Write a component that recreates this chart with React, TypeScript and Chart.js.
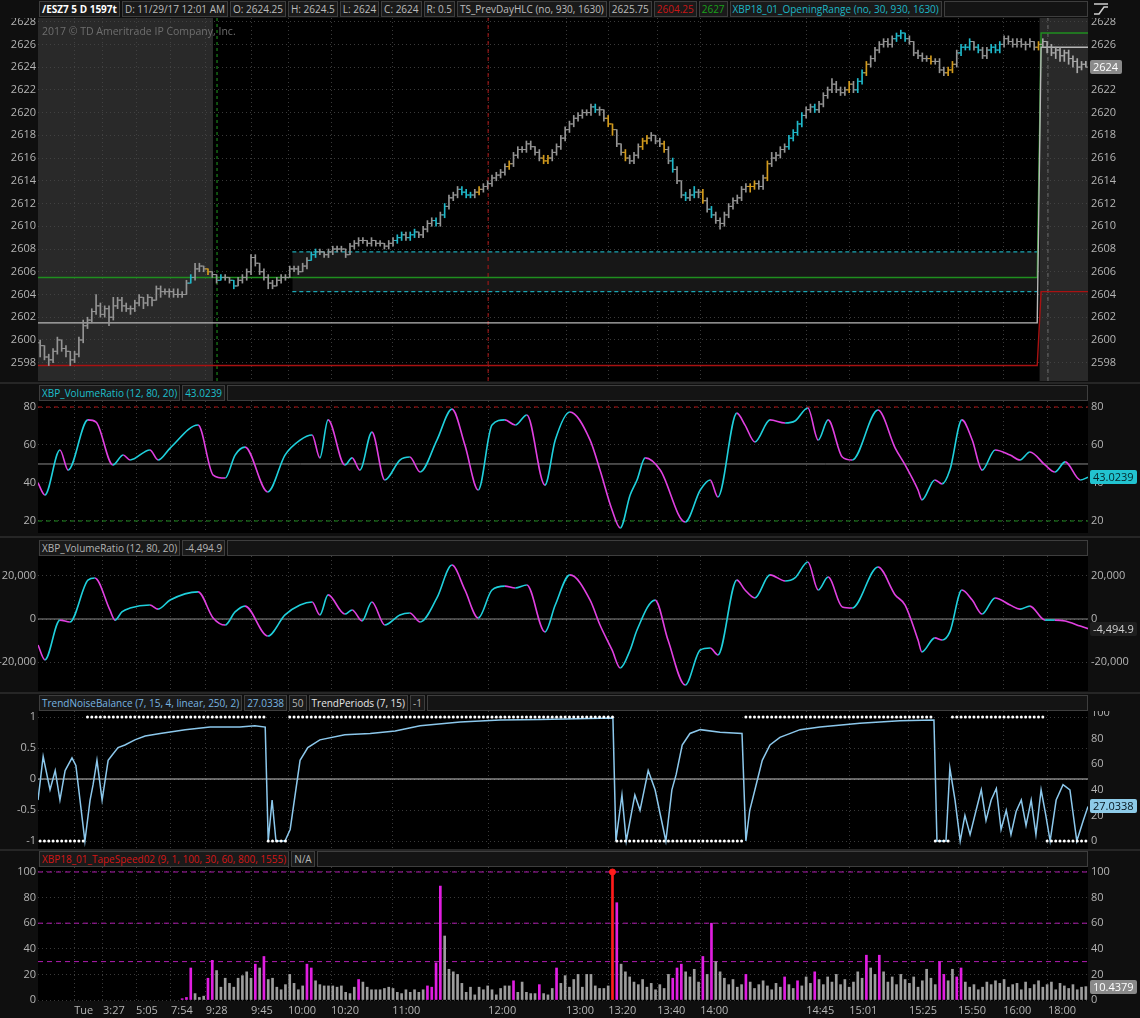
import React, { useEffect, useRef } from 'react';
import { Chart, registerables } from 'chart.js';

Chart.register(...registerables);

const FONT_FAMILY = '"Open Sans", "DejaVu Sans", sans-serif';
const TICK_FONT = { family: FONT_FAMILY, size: 11 };
const TICK_COLOR = '#b4b4b4';
const GRID_COLOR = '#3a3a3a';
const W = 1140;
const LEFT_AXIS_W = 38;
const RIGHT_AXIS_W = 52;
const X_MIN = -0.5;
const X_MAX = 243.5;

// ---------------- time axis ----------------
const timeTickIdx = [7.9, 14.6, 22.3, 30.4, 38.5, 49.0, 57.6, 67.6, 81.8, 104.1, 122.2, 132.0, 143.4, 153.4, 178.0, 188.0, 201.9, 213.3, 223.8, 234.2];
const timeTickLabels = ['Tue', '3:27', '5:05', '7:54', '9:28', '9:45', '10:00', '10:20', '11:00', '12:00', '13:00', '13:20', '13:40', '14:00', '14:45', '15:01', '15:25', '15:50', '16:00', '18:00'];

// ---------------- price (OHLC, 1597 tick bars) ----------------
const firstOpen = 2599.75;
const priceClose = [
  2599.5, 2598.5, 2598.25, 2599, 2600, 2599.25, 2599, 2598.25, 2598.75, 2600,
  2601.25, 2601.75, 2602.5, 2603, 2602.25, 2602.75, 2602, 2603, 2603.5, 2603,
  2602.75, 2602.75, 2603.25, 2603.75, 2603.25, 2603.75, 2603.5, 2604.5, 2604.25, 2604.25,
  2604.25, 2604, 2604, 2604, 2605, 2605.5, 2606.25, 2606.5, 2606.25, 2606,
  2605.75, 2605.25, 2605.5, 2605.5, 2605.25, 2604.75, 2605.25, 2605.5, 2606, 2607.25,
  2606.75, 2606, 2605.5, 2605, 2604.75, 2605.25, 2605.5, 2605.5, 2606.25, 2606.25,
  2606, 2606.5, 2607, 2607.5, 2607.75, 2607.75, 2607.5, 2607.75, 2608, 2608,
  2608, 2607.5, 2608.25, 2608.5, 2608.75, 2608.75, 2608.5, 2608.75, 2608.5, 2608.5,
  2608.25, 2608.5, 2608.75, 2609, 2609.25, 2609, 2609.25, 2609.5, 2609.25, 2609.75,
  2610.25, 2610.5, 2610.25, 2611, 2611.75, 2612.5, 2612.75, 2613.25, 2613, 2612.75,
  2612.75, 2613, 2613.25, 2613.5, 2613.75, 2614.25, 2614.5, 2614.75, 2615.25, 2615.5,
  2616.25, 2616.75, 2616.75, 2617.25, 2617, 2616.5, 2616, 2615.75, 2616, 2616.5,
  2617, 2617.75, 2618.5, 2619, 2619.5, 2619.75, 2620, 2620, 2620.5, 2620.25,
  2620.25, 2619.5, 2619, 2618.5, 2617.25, 2616.5, 2616, 2615.75, 2616.25, 2617,
  2617.5, 2617.75, 2618, 2617.5, 2617.25, 2616.75, 2615.75, 2615, 2614, 2612.75,
  2612.5, 2612.75, 2613, 2613, 2612.25, 2611.5, 2611, 2610.5, 2610.25, 2611,
  2611.75, 2612.25, 2612.5, 2613.25, 2613.5, 2613.5, 2613.75, 2613.5, 2614.25, 2615.5,
  2616, 2616.25, 2616.75, 2617, 2617.75, 2618.25, 2619, 2619.75, 2620.25, 2620.5,
  2620.25, 2620.75, 2621.5, 2622, 2622.5, 2622, 2621.75, 2622, 2622.5, 2622,
  2622.75, 2623.5, 2624.25, 2624.75, 2625.5, 2626, 2626.25, 2626, 2626.5, 2626.75,
  2627, 2626.5, 2626.25, 2625.25, 2625, 2624.75, 2624.75, 2624.5, 2624.5, 2623.75,
  2623.5, 2623.75, 2624.25, 2625.25, 2625.75, 2625.75, 2626.25, 2625.75, 2625.5, 2625,
  2625.5, 2625.75, 2625.5, 2626, 2626.5, 2626.25, 2626, 2626.25, 2626, 2626,
  2626.25, 2625.75, 2626, 2626.25, 2625.75, 2625.25, 2625.5, 2625, 2625.25, 2624.75,
  2624.5, 2624, 2624.25, 2624,
];
const priceHigh = [
  2600, 2599.5, 2598.75, 2599.25, 2600.25, 2600, 2599.5, 2599, 2599, 2600.25,
  2601.75, 2602, 2602.75, 2604, 2603.25, 2603, 2603, 2603.75, 2603.75, 2603.75,
  2603.25, 2603, 2603.5, 2604, 2603.75, 2604, 2603.75, 2604.75, 2604.75, 2604.5,
  2604.5, 2604.5, 2604.5, 2604.25, 2605.25, 2605.75, 2606.75, 2606.75, 2606.5, 2606.25,
  2606, 2605.75, 2605.75, 2605.75, 2605.5, 2605.25, 2605.5, 2605.75, 2606.25, 2607.5,
  2607.5, 2606.75, 2606.25, 2605.75, 2605.25, 2605.5, 2605.75, 2605.75, 2606.5, 2606.5,
  2606.5, 2606.75, 2607.25, 2607.75, 2608, 2608, 2607.75, 2608, 2608.25, 2608.25,
  2608.25, 2608, 2608.5, 2608.75, 2609, 2609, 2608.75, 2609, 2608.75, 2608.75,
  2608.5, 2608.75, 2609, 2609.25, 2609.5, 2609.5, 2609.5, 2609.75, 2609.5, 2610,
  2610.5, 2610.75, 2610.75, 2611.25, 2612, 2612.75, 2613, 2613.5, 2613.5, 2613.25,
  2613, 2613.25, 2613.5, 2613.75, 2614, 2614.5, 2614.75, 2615, 2615.5, 2615.75,
  2616.5, 2617, 2617, 2617.5, 2617.5, 2617, 2616.75, 2616.25, 2616.25, 2616.75,
  2617.25, 2618, 2618.75, 2619.25, 2619.75, 2620, 2620.25, 2620.25, 2620.75, 2620.75,
  2620.5, 2620.25, 2619.75, 2619, 2618.5, 2617.25, 2616.75, 2616.25, 2616.5, 2617.25,
  2617.75, 2618, 2618.25, 2618, 2617.75, 2617.5, 2617, 2616, 2615.25, 2614,
  2613, 2613.25, 2613.5, 2613.25, 2613.25, 2612.5, 2611.75, 2611.25, 2610.75, 2611.25,
  2612, 2612.5, 2612.75, 2613.5, 2613.75, 2613.75, 2614, 2614, 2614.5, 2615.75,
  2616.5, 2616.5, 2617, 2617.25, 2618, 2618.5, 2619.25, 2620, 2620.5, 2620.75,
  2620.75, 2621, 2621.75, 2622.25, 2623, 2622.75, 2622.25, 2622.25, 2622.75, 2622.75,
  2623, 2623.75, 2624.5, 2625, 2625.75, 2626.25, 2626.5, 2626.5, 2626.75, 2627,
  2627.25, 2627, 2626.75, 2626.25, 2625.5, 2625.25, 2625, 2625, 2624.75, 2624.75,
  2624, 2624, 2624.5, 2625.5, 2626, 2626, 2626.5, 2626.25, 2626, 2625.75,
  2625.75, 2626, 2626, 2626.25, 2626.75, 2626.75, 2626.5, 2626.5, 2626.5, 2626.25,
  2626.5, 2626.25, 2626.25, 2626.5, 2626.25, 2626, 2625.75, 2625.75, 2625.5, 2625.5,
  2625, 2624.75, 2624.5, 2624.5,
];
const priceLow = [
  2598.5, 2598.25, 2597.75, 2598, 2598.75, 2599, 2598.5, 2597.75, 2598, 2598.5,
  2599.75, 2601, 2601.5, 2602.25, 2602, 2602, 2601.25, 2601.75, 2602.75, 2602.5,
  2602.5, 2602.25, 2602.5, 2603, 2602.75, 2603, 2603, 2603.5, 2603.75, 2604,
  2603.75, 2603.75, 2603.75, 2603.75, 2604, 2605, 2605.25, 2606, 2606, 2605.75,
  2605.5, 2605, 2605.25, 2605.25, 2605, 2604.5, 2604.75, 2605, 2605.25, 2605.75,
  2606.5, 2605.75, 2605.25, 2604.5, 2604.5, 2604.75, 2605, 2605.25, 2605.5, 2606,
  2605.75, 2606, 2606.25, 2607, 2607.25, 2607.5, 2607.25, 2607.25, 2607.5, 2607.75,
  2607.75, 2607.25, 2607.5, 2608, 2608.25, 2608.5, 2608.25, 2608.25, 2608.25, 2608.25,
  2608, 2608, 2608.25, 2608.5, 2608.75, 2608.75, 2608.75, 2609, 2609, 2609,
  2609.5, 2610, 2610, 2610, 2610.75, 2611.5, 2612.25, 2612.5, 2612.75, 2612.5,
  2612.5, 2612.5, 2612.75, 2613, 2613.25, 2613.5, 2614, 2614.25, 2614.5, 2615,
  2615.25, 2616, 2616.5, 2616.5, 2616.75, 2616.25, 2615.75, 2615.5, 2615.5, 2615.75,
  2616.25, 2616.75, 2617.5, 2618.25, 2618.75, 2619.25, 2619.5, 2619.75, 2619.75, 2620,
  2619.75, 2619.25, 2618.75, 2618, 2617, 2616.25, 2615.75, 2615.5, 2615.5, 2616,
  2616.75, 2617.25, 2617.5, 2617.25, 2617, 2616.5, 2615.5, 2614.75, 2613.75, 2612.5,
  2612.25, 2612.25, 2612.5, 2612.5, 2612, 2611.25, 2610.75, 2610.25, 2609.75, 2610,
  2610.75, 2611.5, 2612, 2612.25, 2613, 2613, 2613.25, 2613.25, 2613.25, 2614,
  2615.25, 2615.75, 2616, 2616.5, 2616.75, 2617.5, 2618, 2618.75, 2619.5, 2620,
  2620, 2620, 2620.5, 2621.25, 2621.75, 2621.75, 2621.5, 2621.5, 2621.75, 2621.75,
  2621.75, 2622.5, 2623.25, 2624, 2624.5, 2625.25, 2625.75, 2625.75, 2625.75, 2626.25,
  2626.5, 2626.25, 2626, 2625, 2624.75, 2624.5, 2624.5, 2624.25, 2624.25, 2623.5,
  2623.25, 2623.25, 2623.5, 2624, 2625, 2625.5, 2625.5, 2625.5, 2625.25, 2624.75,
  2624.75, 2625.25, 2625.25, 2625.25, 2625.75, 2626, 2625.75, 2625.75, 2625.75, 2625.5,
  2625.75, 2625.5, 2625.5, 2625.75, 2625.25, 2625, 2624.75, 2624.5, 2624.5, 2624.25,
  2624, 2623.5, 2623.75, 2624,
];
const cyanBars = [35, 42, 45, 63, 64, 83, 84, 86, 87, 92, 94, 98, 99, 100, 129, 147, 150, 152, 156, 174, 175, 176, 177, 180, 190, 191, 199, 200, 201, 214, 215, 216, 218, 221, 222, 223];
const orangeBars = [39, 102, 109, 117, 118, 132, 133, 136, 140, 141, 145, 154, 165, 166, 169, 188, 192, 207, 211, 212, 232];
const postBarsFrom = 233;
const priceTicks = [2598, 2600, 2602, 2604, 2606, 2608, 2610, 2612, 2614, 2616, 2618, 2620, 2622, 2624, 2626, 2628];
const PRICE_MIN = 2596.39;
const PRICE_MAX = 2628.32;

// sessions & markers (bar index units)
const premarketSpan = [-0.5, 40.2];
const postmarketSpan = [232.2, 243.5];
const sessionOpenIdx = 41.1;
const noonIdx = 104.1;
const eveningIdx = 234.2;

// TS_PrevDayHLC levels (before / after the session change)
const levelJump = [231.7, 232.6];
const prevHigh = [2605.5, 2627];
const prevClose = [2601.5, 2625.75];
const prevLow = [2597.75, 2604.25];
// XBP18_01_OpeningRange
const openingRange = [2604.25, 2607.75];
const openingRangeSpan = [58.6, 231.9];

// ---------------- XBP_VolumeRatio (oscillator) ----------------
const vrIdx = [-0.5, 1.1, 4.6, 6.5, 11.1, 13.0, 16.9, 19.3, 20.9, 25.5, 27.4, 30.2, 36.7, 40.2, 43.0, 45.3, 47.6, 52.9, 56.9, 60.4, 63.2, 65.0, 66.9, 70.8, 72.5, 74.3, 77.1, 80.1, 83.6, 85.9, 88.3, 92.2, 95.7, 98.7, 101.8, 105.0, 108.0, 110.4, 113.1, 117.3, 119.7, 123.1, 127.8, 130.1, 132.9, 134.8, 137.1, 138.7, 140.6, 144.1, 149.9, 153.4, 155.7, 157.5, 161.9, 163.8, 166.1, 169.6, 173.1, 175.4, 178.4, 180.8, 183.1, 186.4, 188.7, 194.7, 198.7, 201.0, 204.0, 204.9, 207.9, 209.6, 211.4, 214.2, 216.6, 218.9, 221.9, 225.4, 227.7, 230.0, 233.5, 235.8, 238.2, 241.7, 243.5];
const vrVal = [40, 33.7, 57.4, 46.8, 73.2, 72.1, 49.5, 54.7, 52.1, 57.4, 52.1, 58.4, 70.5, 44.2, 42.6, 54.7, 58.9, 35.3, 54.7, 62.6, 65.3, 53.2, 73.2, 49.5, 53.2, 46.8, 66.8, 41.6, 52.1, 53.7, 45.8, 62.6, 78.9, 60, 36.3, 70.5, 73.2, 70.5, 75.8, 38.9, 62.6, 77.4, 62.6, 46.8, 25.8, 16.3, 33.7, 41.6, 53.2, 46.8, 19.5, 36.3, 41.6, 32.6, 76.8, 70.5, 61.6, 73.2, 71.6, 72.6, 79.5, 62.6, 73.2, 53.7, 52.1, 78.4, 58.4, 49.5, 36.3, 31.1, 41.6, 39.5, 46.8, 73.2, 62.6, 46.8, 57.4, 54.7, 52.1, 56.3, 49.5, 45.8, 51.1, 41.6, 43.0239];
const vrTicks = [20, 40, 60, 80];
const vrLevels = [80, 50, 20];

// ---------------- XBP_VolumeRatio (raw) ----------------
const vr2Idx = [-0.5, 1.1, 4.6, 6.9, 11.1, 12.7, 16.2, 17.4, 19.0, 20.9, 25.5, 27.4, 30.2, 36.7, 40.2, 43.0, 45.3, 47.6, 52.9, 56.9, 60.4, 63.2, 65.0, 66.9, 70.8, 72.5, 74.8, 77.1, 80.1, 83.6, 85.9, 88.3, 92.2, 95.7, 98.7, 101.8, 105.0, 108.0, 110.4, 113.1, 117.3, 119.7, 123.1, 127.8, 130.1, 132.9, 134.8, 137.1, 138.7, 142.9, 145.9, 149.9, 153.4, 155.7, 157.5, 161.9, 163.8, 166.1, 169.6, 173.1, 175.4, 178.4, 180.8, 183.1, 186.4, 188.7, 194.7, 198.7, 201.0, 204.0, 204.9, 207.9, 209.6, 211.4, 214.2, 216.6, 218.9, 221.9, 225.4, 227.7, 230.0, 233.5, 235.8, 238.2, 241.7, 243.5];
const vr2Val = [-12100, -19000, -500, -1400, 18100, 19100, 4200, -500, 3300, 5100, 6500, 4600, 8800, 12600, 500, -2800, 3300, 6000, -7900, 1900, 6500, 7900, 1900, 11200, 2300, 4200, -900, 7900, -2800, 1900, 2800, -1400, 9800, 25100, 13500, 500, 13500, 15300, 14400, 15800, -6000, 6500, 20500, 8800, -2800, -14400, -22800, -14400, -5100, 8800, -9800, -30700, -14400, -13500, -16700, 18100, 13500, 9800, 20500, 17700, 19100, 26500, 13500, 19500, 5600, 5100, 24200, 11200, 6500, -9800, -15300, -8800, -9800, -6000, 13500, 8800, 2300, 9800, 6500, 4600, 6000, -500, -500, -900, -3300, -4494.9];
const vr2Ticks = [-20000, 0, 20000];

// ---------------- TrendNoiseBalance / TrendPeriods ----------------
const tnbIdx = [-0.5, 0.7, 2.3, 3.5, 4.6, 5.8, 7.4, 8.3, 10.4, 11.6, 12.3, 13.2, 14.4, 15.8, 16.7, 18.1, 19.7, 22, 24.4, 27.9, 33.7, 39.5, 46.4, 49.9, 52.3, 53, 53.9, 54.8, 56.9, 58.1, 60.4, 62.2, 65, 70.8, 76.7, 82.5, 88.3, 97.6, 106.9, 116.2, 133.1, 133.8, 135.2, 136.2, 138.2, 139.4, 141.3, 142.9, 145.4, 146.8, 147.8, 149.2, 151, 153.4, 158, 163.1, 164, 164.9, 166.1, 167.8, 169.6, 171.9, 176.6, 181.2, 190.5, 199.8, 207.7, 208.4, 210.5, 211.4, 212.6, 213.8, 214.9, 216.1, 217.5, 218.7, 219.8, 221, 222.2, 223.3, 224.5, 225.6, 226.8, 228, 229.1, 230.3, 231.4, 232.6, 233.7, 234.7, 236.1, 237.7, 239.3, 240.9, 242.4, 243.5];
const tnbVal = [32, 66, 40, 55, 32, 55, 65, 59, 0, 32, 44, 63, 32, 63, 67, 73, 75, 79, 82, 84, 87, 89, 89, 90, 89, 0, 32, 0, 0, 9, 63, 73, 79, 83, 84, 86, 90, 93, 94.5, 95, 96, 0, 36, 0, 36, 24, 55, 40, 0, 40, 52, 75, 84, 87, 85, 84, 0, 24, 40, 63, 75, 81, 87, 89, 92, 94, 94.5, 0, 0, 57, 32, 0, 20, 5, 24, 40, 16, 32, 41, 9, 24, 5, 23, 32, 12, 32, 5, 40, 20, 0, 32, 44, 40, 0, 16, 27.0338];
const trendRunStarts = [0, 11, 53, 58, 134, 164, 208, 212, 234];
const trendRunSigns = [-1, 1, -1, 1, -1, 1, -1, 1, -1];
const tnbLeftTicks = [-1, -0.5, 0, 0.5, 1];
const tnbRightTicks = [0, 20, 40, 60, 80, 100];

// ---------------- XBP18_01_TapeSpeed02 ----------------
const tapeStartIdx = 33;
const tapeSpeed = [
  1, 2, 25, 5, 2, 3, 17, 31, 23, 10, 17, 13, 10, 17, 19, 22, 17, 28, 25, 34, 16, 17, 10, 8, 12, 20, 13, 8, 11, 28, 25, 15, 12, 11,
  11, 11, 10, 11, 6, 5, 10, 16, 14, 10,
  8, 8, 8, 9, 10, 9, 6, 5, 8, 6,
  8, 6, 8, 11, 10, 29, 89, 50, 24, 22,
  20, 13, 6, 10, 4, 10, 8, 11, 8, 4,
  9, 11, 11, 15, 6, 14, 6, 5, 5, 12,
  5, 4, 9, 25, 13, 19, 10, 16, 20, 10,
  20, 20, 11, 9, 9, 11, 100, 76,
  28, 22, 18, 14, 12, 16, 10, 13, 8, 12,
  9, 20, 17, 25, 28, 22, 18, 24, 14, 34,
  20, 60, 30, 22, 17, 12, 16, 10, 12, 20,
  14, 9, 12, 15, 11, 8, 13, 10, 18, 12,
  9, 15, 11, 18, 13, 22, 16, 12, 18, 14,
  20, 12, 16, 10, 14, 22, 17, 35, 25, 20,
  35, 22, 14, 18, 12, 20, 16, 13, 18, 10,
  15, 24, 17, 12, 30, 20, 15, 24, 18, 25,
  14, 10, 12, 8, 10, 14, 12, 15, 13, 16,
  10, 12, 13, 8, 14, 9, 12, 15, 10, 12,
  14, 8, 13, 11, 9, 12, 8, 10,
  10.4379,
];
const tapeHighlightBars = [33, 34, 35, 39, 40, 50, 52, 62, 63, 74, 90, 91, 92, 93, 110, 116, 120, 134, 147, 148, 149, 154, 156, 164, 173, 176, 180, 192, 195, 209, 210, 213, 214];
const tapeSpikeIdx = 133;
const tapeLevels = [100, 60, 30];
const tapeTicks = [0, 20, 40, 60, 80, 100];

// ---------------- header texts ----------------
const headerTabs = [
  { t: '/ESZ7 5 D 1597t', c: '#ffffff', b: true },
  { t: 'D: 11/29/17 12:01 AM', c: '#bdbdbd' },
  { t: 'O: 2624.25', c: '#bdbdbd' },
  { t: 'H: 2624.5', c: '#bdbdbd' },
  { t: 'L: 2624', c: '#bdbdbd' },
  { t: 'C: 2624', c: '#bdbdbd' },
  { t: 'R: 0.5', c: '#bdbdbd' },
  { t: 'TS_PrevDayHLC (no, 930, 1630)', c: '#bdbdbd' },
  { t: '2625.75', c: '#bdbdbd' },
  { t: '2604.25', c: '#c81616' },
  { t: '2627', c: '#19a019' },
  { t: 'XBP18_01_OpeningRange (no, 30, 930, 1630)', c: '#1db7c6' },
];
const vrTabs = [
  { t: 'XBP_VolumeRatio (12, 80, 20)', c: '#1dbfcc' },
  { t: '43.0239', c: '#1dbfcc' },
];
const vr2Tabs = [
  { t: 'XBP_VolumeRatio (12, 80, 20)', c: '#b4b4b4' },
  { t: '-4,494.9', c: '#b4b4b4' },
];
const tnbTabs = [
  { t: 'TrendNoiseBalance (7, 15, 4, linear, 250, 2)', c: '#78b4e0' },
  { t: '27.0338', c: '#78b4e0' },
  { t: '50', c: '#b4b4b4' },
  { t: 'TrendPeriods (7, 15)', c: '#e6e6e6' },
  { t: '-1', c: '#b4b4b4' },
];
const tapeTabs = [
  { t: 'XBP18_01_TapeSpeed02 (9, 1, 100, 30, 60, 800, 1555)', c: '#d41616' },
  { t: 'N/A', c: '#b4b4b4' },
];
const copyrightText = '2017 \u00a9 TD Ameritrade IP Company, Inc.';

// ---------------- colours ----------------
const CYAN_BAR = '#1fb8c9';
const ORANGE_BAR = '#d39b1c';
const GRAY_BAR = '#949494';
const POST_BAR = '#a8a8a8';
const VR_UP = '#1fd0dc';
const VR_DOWN = '#e040e0';
const TNB_COLOR = '#8cc8ec';
const TAPE_GRAY = '#9c9c9c';
const TAPE_MAGENTA = '#e01ee0';
const TAPE_RED = '#ff1c1c';
const OR_BOX = '#171717';

// ---------------- chart helpers ----------------
function yAxis(position: string, min: number, max: number, ticks: number[], fmt: (v: number) => string, showGrid: boolean) {
  return {
    type: 'linear',
    position,
    min,
    max,
    beginAtZero: false,
    grid: { display: showGrid, color: GRID_COLOR, drawTicks: false, lineWidth: 1 },
    border: { display: false, dash: [1, 3] },
    ticks: { color: TICK_COLOR, font: TICK_FONT, padding: position === 'left' ? 2 : 3, autoSkip: false, callback: (v: number) => fmt(v) },
    afterBuildTicks: (s: any) => {
      s.ticks = ticks.map((v) => ({ value: v }));
    },
    afterFit: (s: any) => {
      s.width = position === 'left' ? LEFT_AXIS_W : RIGHT_AXIS_W;
      s.paddingTop = 0;
      s.paddingBottom = 0;
    },
  };
}

function xAxis(showLabels: boolean) {
  return {
    type: 'linear',
    position: 'bottom',
    min: X_MIN,
    max: X_MAX,
    offset: false,
    grid: { display: true, color: GRID_COLOR, drawTicks: false, offset: false, lineWidth: 1 },
    border: { display: false, dash: [1, 3] },
    ticks: {
      display: showLabels,
      autoSkip: false,
      maxRotation: 0,
      minRotation: 0,
      align: 'start',
      color: TICK_COLOR,
      font: TICK_FONT,
      padding: 3,
      callback: (_v: number, i: number) => timeTickLabels[i],
    },
    afterBuildTicks: (s: any) => {
      s.ticks = timeTickIdx.map((v) => ({ value: v }));
    },
    afterFit: (s: any) => {
      s.height = showLabels ? 17 : 0;
      s.paddingLeft = 0;
      s.paddingRight = 0;
    },
  };
}

const plotBgPlugin = {
  id: 'plotBg',
  beforeDraw(chart: any) {
    const { ctx, chartArea: a } = chart;
    ctx.save();
    ctx.fillStyle = '#000000';
    ctx.fillRect(a.left, a.top, a.right - a.left, a.bottom - a.top);
    ctx.restore();
  },
};

function valueBoxPlugin(boxes: any[]) {
  return {
    id: 'valueBox',
    afterDraw(chart: any) {
      const { ctx, chartArea } = chart;
      boxes.forEach((b) => {
        const y = Math.round(chart.scales[b.scale].getPixelForValue(b.value));
        ctx.save();
        ctx.font = `11px ${FONT_FAMILY}`;
        const w = Math.ceil(ctx.measureText(b.text).width) + 6;
        const x = chartArea.right + 2;
        ctx.fillStyle = b.bg;
        ctx.beginPath();
        if (ctx.roundRect) ctx.roundRect(x, y - 7, w, 14, 2);
        else ctx.rect(x, y - 7, w, 14);
        ctx.fill();
        ctx.fillStyle = b.fg;
        ctx.textBaseline = 'middle';
        ctx.textAlign = 'left';
        ctx.fillText(b.text, x + 3, y + 0.5);
        ctx.restore();
      });
    },
  };
}

function hLine(y: number, color: string, dash: number[], width = 1, yAxisID = 'y', x0 = X_MIN, x1 = X_MAX, order = 50) {
  return {
    type: 'line',
    yAxisID,
    data: [{ x: x0, y }, { x: x1, y }],
    borderColor: color,
    backgroundColor: 'transparent',
    borderDash: dash,
    borderWidth: width,
    pointRadius: 0,
    fill: false,
    order,
  };
}

function vLine(x: number, y0: number, y1: number, color: string, dash: number[]) {
  return {
    type: 'line',
    data: [{ x, y: y0 }, { x, y: y1 }],
    borderColor: color,
    backgroundColor: 'transparent',
    borderDash: dash,
    borderWidth: 1,
    pointRadius: 0,
    fill: false,
    order: 60,
  };
}

function shade(span: number[], yTop: number) {
  return {
    type: 'line',
    data: [{ x: span[0], y: yTop }, { x: span[1], y: yTop }],
    fill: 'start',
    backgroundColor: 'rgba(70,70,70,0.58)',
    borderColor: 'transparent',
    borderWidth: 1,
    pointRadius: 0,
    order: 100,
  };
}

function levelLine(vals: number[], color: string) {
  return {
    type: 'line',
    data: [
      { x: X_MIN, y: vals[0] },
      { x: levelJump[0], y: vals[0] },
      { x: levelJump[1], y: vals[1] },
      { x: X_MAX, y: vals[1] },
    ],
    borderColor: color,
    backgroundColor: 'transparent',
    borderWidth: 1.4,
    pointRadius: 0,
    fill: false,
    order: 50,
  };
}

function baseOptions(scales: any) {
  return {
    responsive: false,
    maintainAspectRatio: false,
    animation: false,
    events: [],
    layout: { padding: 0, autoPadding: false },
    plugins: { legend: { display: false }, tooltip: { enabled: false }, colors: { enabled: false } },
    scales,
  };
}

function barColor(i: number) {
  if (cyanBars.includes(i)) return CYAN_BAR;
  if (orangeBars.includes(i)) return ORANGE_BAR;
  return i >= postBarsFrom ? POST_BAR : GRAY_BAR;
}

// ---------------- chart configs ----------------
function priceConfig() {
  const idx = priceClose.map((_, i) => i);
  const colors = idx.map(barColor);
  const opens = idx.map((i) => (i === 0 ? firstOpen : priceClose[i - 1]));
  const fmt = (v: number) => String(v);
  return {
    type: 'line',
    data: {
      datasets: [
        shade(premarketSpan, PRICE_MAX),
        shade(postmarketSpan, PRICE_MAX),
        {
          type: 'line',
          data: [{ x: openingRangeSpan[0], y: openingRange[1] }, { x: openingRangeSpan[1], y: openingRange[1] }],
          fill: { value: openingRange[0], above: OR_BOX, below: OR_BOX },
          backgroundColor: OR_BOX,
          borderColor: 'transparent',
          borderWidth: 1,
          pointRadius: 0,
          order: 95,
        },
        hLine(openingRange[1], '#1aa6b4', [4, 3], 1.4, 'y', openingRangeSpan[0], openingRangeSpan[1], 55),
        hLine(openingRange[0], '#1aa6b4', [4, 3], 1.4, 'y', openingRangeSpan[0], openingRangeSpan[1], 55),
        levelLine(prevLow, '#a81212'),
        levelLine(prevClose, '#b8b8b8'),
        levelLine(prevHigh, '#1f8f1f'),
        vLine(sessionOpenIdx, PRICE_MIN, PRICE_MAX, '#1f9a1f', [3, 3]),
        vLine(noonIdx, PRICE_MIN, PRICE_MAX, '#b01818', [4, 4]),
        vLine(eveningIdx, PRICE_MIN, PRICE_MAX, '#6a6a6a', [4, 4]),
        {
          type: 'bar',
          data: idx.map((i) => ({ x: i, y: [priceLow[i], priceHigh[i]] })),
          backgroundColor: colors,
          borderWidth: 0,
          barThickness: 1,
          grouped: false,
          order: 10,
        },
        {
          type: 'scatter',
          data: idx.map((i) => ({ x: i - 0.36, y: opens[i] })),
          pointStyle: 'line',
          pointRadius: 1.5,
          pointBorderWidth: 1,
          pointBorderColor: colors,
          pointBackgroundColor: colors,
          order: 5,
        },
        {
          type: 'scatter',
          data: idx.map((i) => ({ x: i + 0.36, y: priceClose[i] })),
          pointStyle: 'line',
          pointRadius: 1.5,
          pointBorderWidth: 1,
          pointBorderColor: colors,
          pointBackgroundColor: colors,
          order: 5,
        },
      ],
    },
    options: baseOptions({
      x: xAxis(false),
      y: yAxis('left', PRICE_MIN, PRICE_MAX, priceTicks, fmt, true),
      yR: yAxis('right', PRICE_MIN, PRICE_MAX, priceTicks, fmt, false),
    }),
    plugins: [
      plotBgPlugin,
      valueBoxPlugin([{ scale: 'yR', value: priceClose[priceClose.length - 1], text: String(priceClose[priceClose.length - 1]), bg: '#8a8a8a', fg: '#ffffff' }]),
    ],
  };
}

function oscLine(xs: number[], ys: number[], yAxisID = 'y') {
  return {
    type: 'line',
    yAxisID,
    data: xs.map((x, k) => ({ x, y: ys[k] })),
    borderColor: VR_UP,
    backgroundColor: 'transparent',
    borderWidth: 1.6,
    pointRadius: 0,
    fill: false,
    cubicInterpolationMode: 'monotone',
    segment: {
      borderColor: (ctx: any) => (ctx.p1.parsed.y >= ctx.p0.parsed.y ? VR_UP : VR_DOWN),
    },
    order: 5,
  };
}

function vrConfig() {
  const min = 13.68;
  const max = 83.16;
  const fmt = (v: number) => String(v);
  return {
    type: 'line',
    data: {
      datasets: [
        hLine(vrLevels[0], '#b01515', [4, 4]),
        hLine(vrLevels[1], '#8a8a8a', []),
        hLine(vrLevels[2], '#1f8f1f', [4, 4]),
        oscLine(vrIdx, vrVal),
      ],
    },
    options: baseOptions({
      x: xAxis(false),
      y: yAxis('left', min, max, vrTicks, fmt, true),
      yR: yAxis('right', min, max, vrTicks, fmt, false),
    }),
    plugins: [
      plotBgPlugin,
      valueBoxPlugin([{ scale: 'yR', value: vrVal[vrVal.length - 1], text: '43.0239', bg: '#22c3d0', fg: '#06262a' }]),
    ],
  };
}

function vr2Config() {
  const min = -33488;
  const max = 29302;
  const fmt = (v: number) => v.toLocaleString('en-US');
  return {
    type: 'line',
    data: {
      datasets: [hLine(0, '#8a8a8a', []), oscLine(vr2Idx, vr2Val)],
    },
    options: baseOptions({
      x: xAxis(false),
      y: yAxis('left', min, max, vr2Ticks, fmt, true),
      yR: yAxis('right', min, max, vr2Ticks, fmt, false),
    }),
    plugins: [
      plotBgPlugin,
      valueBoxPlugin([{ scale: 'yR', value: vr2Val[vr2Val.length - 1], text: '-4,494.9', bg: '#1e1e1e', fg: '#cfcfcf' }]),
    ],
  };
}

function tnbConfig() {
  const idx = priceClose.map((_, i) => i);
  const signs = idx.map((i) => {
    let s = trendRunSigns[0];
    trendRunStarts.forEach((st, k) => {
      if (i >= st) s = trendRunSigns[k];
    });
    return s;
  });
  return {
    type: 'line',
    data: {
      datasets: [
        hLine(0, '#c8c8c8', [], 1, 'y'),
        {
          type: 'line',
          yAxisID: 'yR',
          data: tnbIdx.map((x, k) => ({ x, y: tnbVal[k] })),
          borderColor: TNB_COLOR,
          backgroundColor: 'transparent',
          borderWidth: 1.5,
          pointRadius: 0,
          fill: false,
          order: 5,
        },
        {
          type: 'scatter',
          yAxisID: 'y',
          data: idx.map((i) => ({ x: i, y: signs[i] })),
          pointStyle: 'circle',
          pointRadius: 1.5,
          pointBorderWidth: 0,
          pointBackgroundColor: '#ffffff',
          pointBorderColor: '#ffffff',
          order: 4,
        },
      ],
    },
    options: baseOptions({
      x: xAxis(false),
      y: yAxis('left', -1.129, 1.0968, tnbLeftTicks, (v) => String(v), true),
      yR: yAxis('right', -6.25, 101.56, tnbRightTicks, (v) => String(v), false),
    }),
    plugins: [
      plotBgPlugin,
      valueBoxPlugin([{ scale: 'yR', value: tnbVal[tnbVal.length - 1], text: '27.0338', bg: '#8ecbe8', fg: '#06141c' }]),
    ],
  };
}

function tapeConfig() {
  const pts = tapeSpeed.map((v, k) => ({ x: tapeStartIdx + k, y: v }));
  const colors = pts.map((p) => (p.x === tapeSpikeIdx ? TAPE_RED : tapeHighlightBars.includes(p.x) ? TAPE_MAGENTA : TAPE_GRAY));
  const spikeVal = tapeSpeed[tapeSpikeIdx - tapeStartIdx];
  const fmt = (v: number) => String(v);
  return {
    type: 'line',
    data: {
      datasets: [
        hLine(tapeLevels[0], '#b01cb0', [5, 4]),
        hLine(tapeLevels[1], '#b01cb0', [5, 4]),
        hLine(tapeLevels[2], '#b01cb0', [5, 4]),
        {
          type: 'bar',
          data: pts,
          backgroundColor: colors,
          borderWidth: 0,
          barThickness: 2,
          grouped: false,
          order: 10,
        },
        {
          type: 'scatter',
          data: [{ x: tapeSpikeIdx, y: spikeVal }],
          pointRadius: 3,
          pointBackgroundColor: TAPE_RED,
          pointBorderColor: TAPE_RED,
          order: 4,
        },
      ],
    },
    options: baseOptions({
      x: xAxis(true),
      y: yAxis('left', -0.78, 103.9, tapeTicks, fmt, true),
      yR: yAxis('right', -0.78, 103.9, tapeTicks, fmt, false),
    }),
    plugins: [
      plotBgPlugin,
      valueBoxPlugin([{ scale: 'yR', value: tapeSpeed[tapeSpeed.length - 1], text: '10.4379', bg: '#8a8a8a', fg: '#ffffff' }]),
    ],
  };
}

// ---------------- components ----------------
function Tabs({ top, items }: { top: number; items: any[] }) {
  return (
    <div style={{ position: 'absolute', left: 39, top, width: 1049, height: 16, display: 'flex', gap: 2 }}>
      {items.map((it, k) => (
        <div
          key={k}
          style={{
            boxSizing: 'border-box',
            height: 16,
            background: '#1a1a1a',
            border: '1px solid #3e3e3e',
            color: it.c,
            fontWeight: it.b ? 700 : 400,
            fontSize: 10,
            lineHeight: '14px',
            padding: '0 2px',
            whiteSpace: 'nowrap',
          }}
        >
          {it.t}
        </div>
      ))}
      <div style={{ flex: 1, boxSizing: 'border-box', height: 16, background: '#141414', border: '1px solid #3e3e3e' }} />
    </div>
  );
}

function ChartCanvas({ top, height, makeConfig }: { top: number; height: number; makeConfig: () => any }) {
  const ref = useRef<HTMLCanvasElement | null>(null);
  useEffect(() => {
    const chart = new Chart(ref.current as HTMLCanvasElement, makeConfig() as any);
    return () => chart.destroy();
  }, [makeConfig]);
  return <canvas ref={ref} width={W} height={height} style={{ position: 'absolute', left: 0, top, width: W, height, display: 'block' }} />;
}

function Separator({ top }: { top: number }) {
  return <div style={{ position: 'absolute', left: 0, top, width: W, height: 2, background: '#262626' }} />;
}

function ScaleIcon() {
  return (
    <svg width={16} height={14} style={{ position: 'absolute', left: 1093, top: 2 }}>
      <polyline points="1,2 15,2" stroke="#cfcfcf" strokeWidth={1.5} fill="none" />
      <polyline points="1,12 6,12 11,5 15,5" stroke="#cfcfcf" strokeWidth={1.5} fill="none" />
    </svg>
  );
}

export default function App() {
  return (
    <div
      style={{
        position: 'fixed',
        left: 0,
        top: 0,
        width: W,
        height: 1018,
        background: '#0f0f0f',
        overflow: 'hidden',
        fontFamily: FONT_FAMILY,
      }}
    >
      <Tabs top={1} items={headerTabs} />
      <ChartCanvas top={18} height={363} makeConfig={priceConfig} />
      <ScaleIcon />
      <div style={{ position: 'absolute', left: 42, top: 24, fontSize: 10.5, color: '#6e6e6e', whiteSpace: 'nowrap' }}>{copyrightText}</div>
      <Separator top={382} />
      <Tabs top={385} items={vrTabs} />
      <ChartCanvas top={401} height={132} makeConfig={vrConfig} />
      <Separator top={536} />
      <Tabs top={540} items={vr2Tabs} />
      <ChartCanvas top={556} height={135} makeConfig={vr2Config} />
      <Separator top={692} />
      <Tabs top={695} items={tnbTabs} />
      <ChartCanvas top={711} height={138} makeConfig={tnbConfig} />
      <Separator top={849} />
      <Tabs top={851} items={tapeTabs} />
      <ChartCanvas top={867} height={151} makeConfig={tapeConfig} />
    </div>
  );
}
